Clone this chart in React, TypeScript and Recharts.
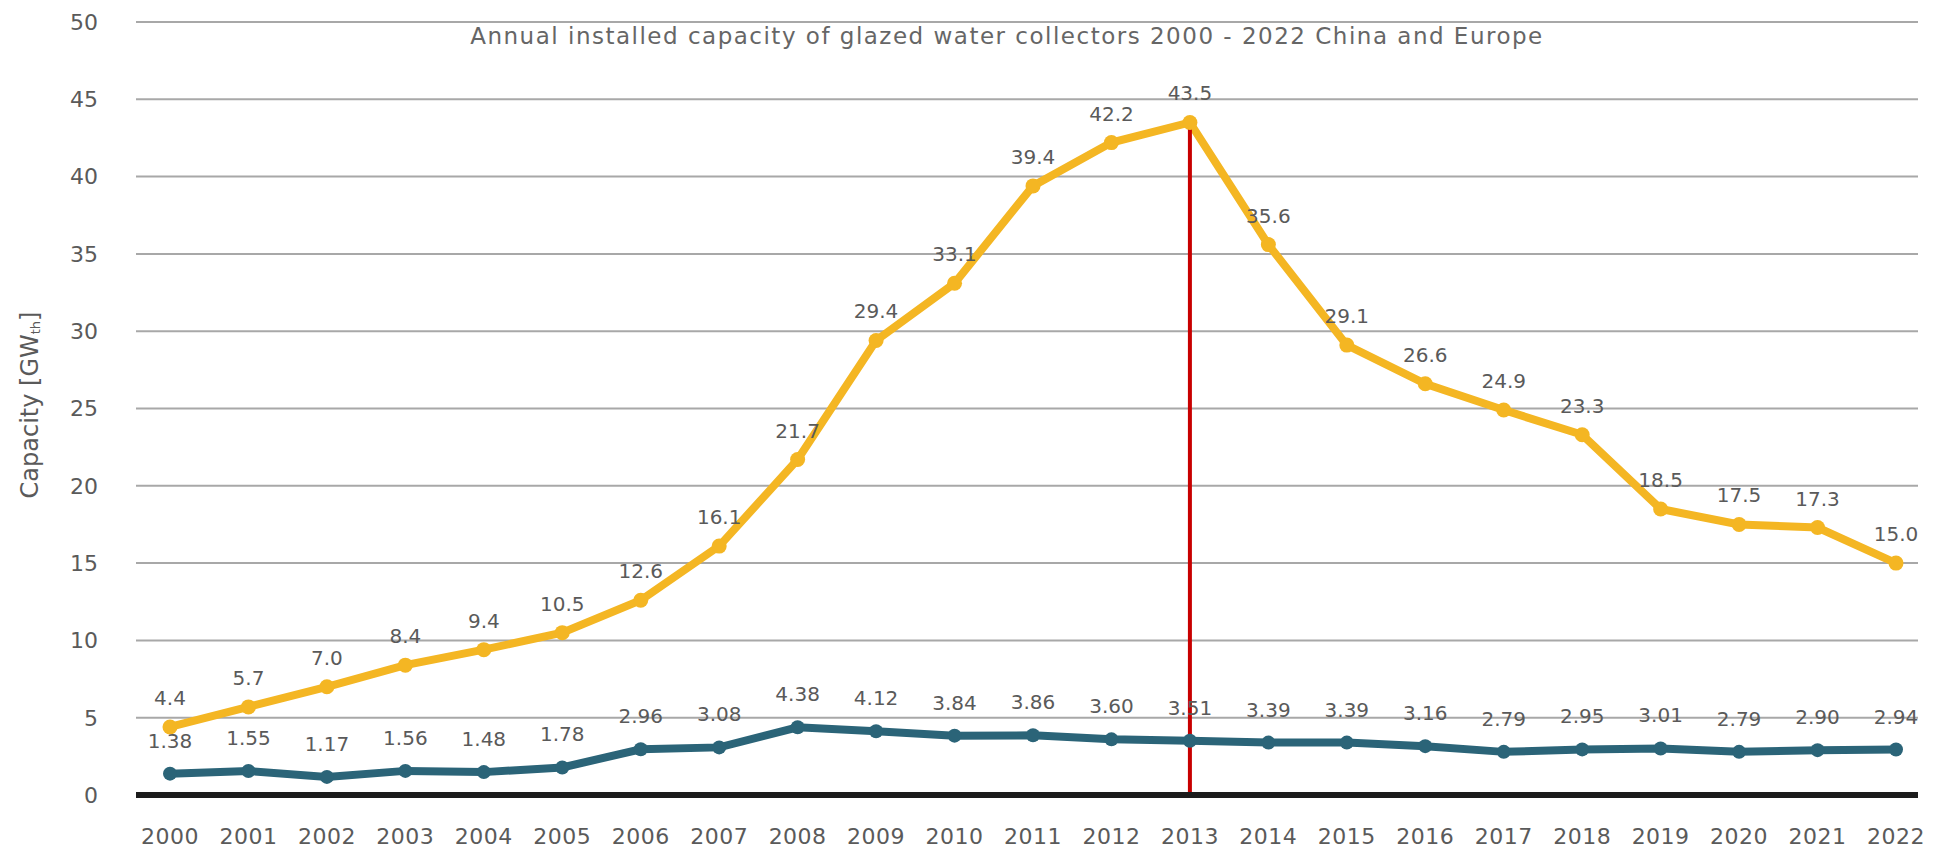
import { LineChart, Line, XAxis, YAxis, CartesianGrid, LabelList, ReferenceLine } from 'recharts';

// years on the x axis
const years = [
    '2000', '2001', '2002', '2003', '2004', '2005', '2006', '2007', '2008', '2009', '2010', '2011',
    '2012', '2013', '2014', '2015', '2016', '2017', '2018', '2019', '2020', '2021', '2022',
];

// China, GWth (gold line)
const china = [
    4.4, 5.7, 7.0, 8.4, 9.4, 10.5, 12.6, 16.1, 21.7, 29.4, 33.1, 39.4,
    42.2, 43.5, 35.6, 29.1, 26.6, 24.9, 23.3, 18.5, 17.5, 17.3, 15.0,
];

// Europe, GWth (teal line)
const europe = [
    1.38, 1.55, 1.17, 1.56, 1.48, 1.78, 2.96, 3.08, 4.38, 4.12, 3.84, 3.86,
    3.60, 3.51, 3.39, 3.39, 3.16, 2.79, 2.95, 3.01, 2.79, 2.90, 2.94,
];

const yTicks = [0, 5, 10, 15, 20, 25, 30, 35, 40, 45, 50];

const peakYear = '2013';
const peakValue = china[years.indexOf(peakYear)];

const title = 'Annual installed capacity of glazed water collectors 2000 - 2022 China and Europe';

const GOLD = '#f4b623';
const TEAL = '#2b6478';
const TEXT = '#5a5a5a';
const FONT = '"DejaVu Sans", sans-serif';

export default function App() {
    const chartData = years.map((year, i) => ({
        year,
        china: china[i],
        europe: europe[i],
    }));

    return (
        <div style={{ position: 'absolute', left: 0, top: 0, width: 1934, height: 858, background: '#fff', fontFamily: FONT }}>
            <LineChart width={1934} height={858} data={chartData} margin={{ top: 22, right: 16, left: 0, bottom: 0 }}>
                <CartesianGrid vertical={false} stroke="#a8a8a8" strokeWidth={2} />
                <XAxis
                    dataKey="year"
                    height={63}
                    padding={{ left: 34, right: 22 }}
                    tickLine={false}
                    tickSize={0}
                    tickMargin={33}
                    axisLine={{ stroke: '#1c1c1c', strokeWidth: 6 }}
                    tick={{ fill: TEXT, fontSize: 22, fontFamily: FONT, letterSpacing: 0.5 }}
                    interval={0}
                />
                <YAxis
                    width={136}
                    domain={[0, 50]}
                    ticks={yTicks}
                    tickLine={false}
                    tickSize={0}
                    tickMargin={38}
                    axisLine={false}
                    tick={{ fill: TEXT, fontSize: 22, fontFamily: FONT }}
                    label={{
                        content: () => (
                            <text
                                x={30}
                                y={405}
                                transform="rotate(-90 30 405)"
                                textAnchor="middle"
                                dominantBaseline="central"
                                fill={TEXT}
                                fontSize={24}
                                fontFamily={FONT}
                            >
                                Capacity [GW<tspan fontSize={13} dy={5}>th</tspan><tspan dy={-5}>]</tspan>
                            </text>
                        ),
                    }}
                />
                <Line
                    type="linear"
                    dataKey="europe"
                    stroke={TEAL}
                    strokeWidth={8}
                    dot={{ r: 7, fill: TEAL, stroke: TEAL, strokeWidth: 0 }}
                    isAnimationActive={false}
                >
                    <LabelList
                        dataKey="europe"
                        position="top"
                        offset={26}
                        fill={TEXT}
                        fontSize={20}
                        fontFamily={FONT}
                        formatter={(v: any) => Number(v).toFixed(2)}
                    />
                </Line>
                <Line
                    type="linear"
                    dataKey="china"
                    stroke={GOLD}
                    strokeWidth={8}
                    dot={{ r: 7.5, fill: GOLD, stroke: GOLD, strokeWidth: 0 }}
                    isAnimationActive={false}
                >
                    <LabelList
                        dataKey="china"
                        position="top"
                        offset={22}
                        fill={TEXT}
                        fontSize={20}
                        fontFamily={FONT}
                        formatter={(v: any) => Number(v).toFixed(1)}
                    />
                </Line>
                <ReferenceLine
                    segment={[{ x: peakYear, y: 0 }, { x: peakYear, y: peakValue }]}
                    stroke="#c80000"
                    strokeWidth={4}
                />
            </LineChart>
            <div
                style={{
                    position: 'absolute',
                    left: 1007,
                    top: 23,
                    transform: 'translateX(-50%)',
                    whiteSpace: 'nowrap',
                    fontSize: 23,
                    letterSpacing: 1.5,
                    color: '#666',
                    fontFamily: FONT,
                }}
            >
                {title}
            </div>
        </div>
    );
}
